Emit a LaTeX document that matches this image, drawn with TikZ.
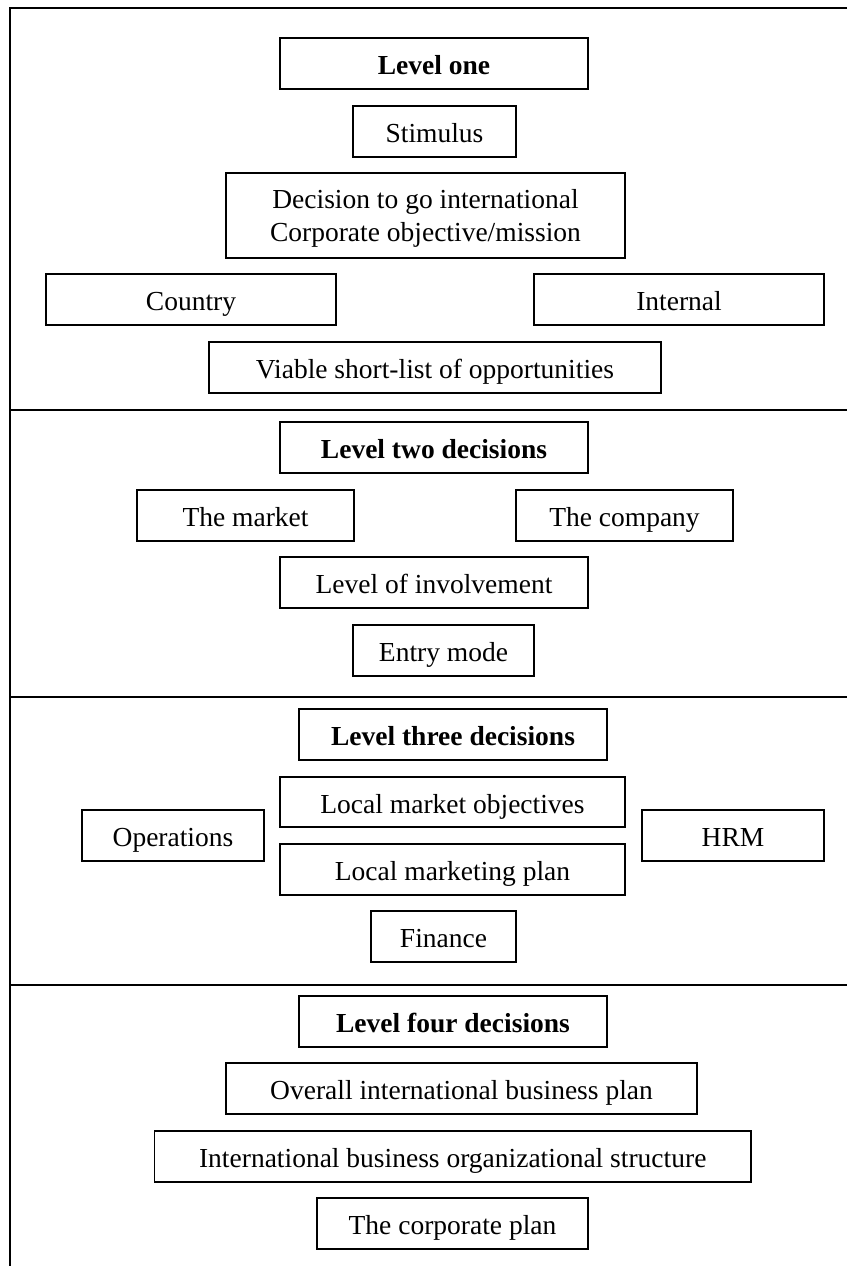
\documentclass[tikz,border=0pt]{standalone}
\usepackage{fontspec}
\setmainfont{Liberation Serif}
\begin{document}
\begin{tikzpicture}[
  x=1pt, y=-1pt,
  frameline/.style={line width=1.2pt},
  boxbase/.style={draw, line width=1.2pt, inner sep=0pt, align=center,
    minimum height=51pt, font=\fontsize{27.5}{33}\selectfont},
  box/.style={boxbase, text height=24pt, text depth=2pt},
  heading/.style={box, font=\fontsize{27.5}{33}\selectfont\bfseries}
]
\useasboundingbox (0,0) rectangle (847,1266);

% outer frame and level separators
\draw[frameline] (847,8) -- (10,8) -- (10,1266);
\foreach \yy in {410,697,985} \draw[frameline] (10,\yy) -- (847,\yy);

% level one
\node[heading, minimum width=308pt] (l1) at (434,63.5) {Level one};
\node[box, minimum width=163pt] (stim) at (434.5,131.5) {Stimulus};
\node[boxbase, minimum width=399pt, minimum height=85pt] (dec) at (425.5,215.5) {};
\node[font=\fontsize{27.5}{33}\selectfont, align=center, inner sep=0pt] (dectext) at ([yshift=-3pt]dec.center)
  {Decision to go international\\Corporate objective/mission};
\node[box, minimum width=290pt] (country) at (191,299.5) {Country};
\node[box, minimum width=290pt] (internal) at (679,299.5) {Internal};
\node[box, minimum width=452pt] (viable) at (435,367.5) {Viable short-list of opportunities};

% level two
\node[heading, minimum width=308pt] (l2) at (434,447.5) {Level two decisions};
\node[box, minimum width=217pt] (market) at (245.5,515.5) {The market};
\node[box, minimum width=217pt] (company) at (624.5,515.5) {The company};
\node[box, minimum width=308pt] (involve) at (434,582.5) {Level of involvement};
\node[box, minimum width=181pt] (entry) at (443.5,650.5) {Entry mode};

% level three
\node[heading, minimum width=308pt] (l3) at (453,734.5) {Level three decisions};
\node[box, minimum width=345pt, minimum height=50pt] (lmo) at (452.5,802) {Local market objectives};
\node[box, minimum width=182pt] (ops) at (173,835.5) {Operations};
\node[box, minimum width=182pt] (hrm) at (733,835.5) {HRM};
\node[box, minimum width=345pt] (lmp) at (452.5,869.5) {Local marketing plan};
\node[box, minimum width=145pt] (fin) at (443.5,936.5) {Finance};

% level four
\node[heading, minimum width=308pt] (l4) at (453,1021.5) {Level four decisions};
\node[box, minimum width=471pt] (overall) at (461.5,1088.5) {Overall international business plan};
\node[box, minimum width=596.5pt] (ibos) at (452.75,1156.5) {International business organizational structure};
\node[box, minimum width=271pt] (corp) at (452.5,1223.5) {The corporate plan};
\end{tikzpicture}
\end{document}
